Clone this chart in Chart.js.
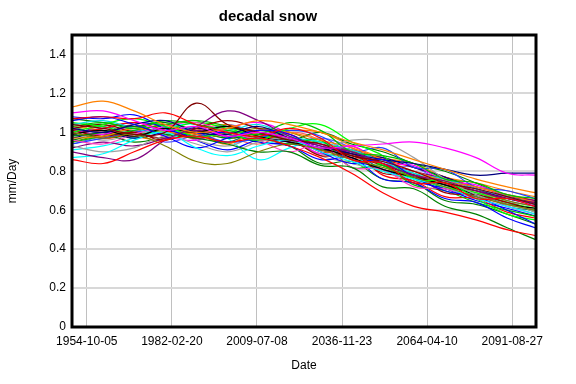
<!DOCTYPE html>
<html lang="en">
<head>
  <meta charset="UTF-8">
  <title>decadal snow</title>
  <script src="https://cdn.jsdelivr.net/npm/chart.js"></script>
  <style>
    body {
      margin: 0;
      background: #fff;
    }
  </style>
</head>
<body>
  <canvas id="snowChart" width="576" height="384"></canvas>

  <script>
    // sample dates (1 Jan of each year) and tick values (day serials from 1900-01-01)
    const years = [1950, 1960, 1970, 1980, 1990, 2000, 2010, 2020, 2030, 2040, 2050, 2060, 2070, 2080, 2090, 2099];
    const tickDays = [20000, 30000, 40000, 50000, 60000, 70000];

    const colors = [
      '#ff8000', '#ff00ff', '#ff0000', '#ff0000', '#800000', '#808000',
      '#800080', '#00ffff', '#0000ff', '#000080', '#00c000', '#008000',
      '#00ff00', '#a0a0a0', '#000000', '#ff40c0', '#0000ff', '#ff8000',
      '#a00000', '#00c000', '#00e0e0', '#800080', '#ff0000', '#2040ff',
      '#00ff00', '#ff00ff', '#000080', '#800000', '#808000', '#008000',
      '#a0a0a0', '#ff8000', '#00ffff', '#0000ff', '#008000', '#ff0000',
      '#008080', '#ff6060', '#6060ff', '#40c040'
    ];

    const s1  = [1.13, 1.16, 1.11, 1.04, 1.00, 1.02, 1.06, 1.04, 1.00, 0.95, 0.91, 0.86, 0.81, 0.76, 0.72, 0.69];
    const s2  = [1.10, 1.11, 1.06, 1.01, 1.03, 0.98, 1.00, 0.97, 0.92, 0.93, 0.94, 0.95, 0.92, 0.87, 0.79, 0.78];
    const s3  = [1.07, 1.08, 1.07, 1.10, 1.04, 1.00, 0.98, 1.02, 0.97, 0.86, 0.84, 0.74, 0.74, 0.66, 0.66, 0.62];
    const s4  = [0.86, 0.84, 0.90, 0.96, 0.98, 0.95, 0.97, 0.93, 0.87, 0.79, 0.69, 0.62, 0.59, 0.55, 0.50, 0.47];
    const s5  = [1.04, 1.02, 0.99, 1.00, 1.15, 1.04, 1.00, 0.96, 0.94, 0.88, 0.85, 0.80, 0.74, 0.71, 0.67, 0.63];
    const s6  = [1.00, 0.97, 0.99, 0.93, 0.85, 0.84, 0.90, 0.94, 0.91, 0.86, 0.82, 0.77, 0.72, 0.67, 0.63, 0.60];
    const s7  = [0.90, 0.87, 0.86, 0.96, 1.03, 1.11, 1.06, 0.98, 0.93, 0.90, 0.84, 0.78, 0.75, 0.70, 0.66, 0.64];
    const s8  = [0.87, 0.89, 0.96, 1.00, 0.92, 0.88, 0.93, 0.96, 0.90, 0.85, 0.80, 0.76, 0.72, 0.66, 0.62, 0.58];
    const s9  = [1.06, 1.08, 1.04, 0.98, 0.92, 0.97, 1.01, 0.99, 0.90, 0.84, 0.86, 0.77, 0.70, 0.67, 0.60, 0.53];
    const s10 = [1.02, 1.00, 1.04, 1.06, 1.00, 0.99, 1.03, 0.97, 0.93, 0.89, 0.86, 0.84, 0.81, 0.78, 0.79, 0.79];
    const s11 = [1.03, 1.05, 1.02, 1.06, 1.04, 1.01, 0.99, 1.05, 1.01, 0.90, 0.88, 0.84, 0.76, 0.74, 0.68, 0.66];
    const s12 = [0.98, 1.00, 1.03, 0.99, 0.97, 0.94, 0.90, 0.90, 0.83, 0.82, 0.72, 0.71, 0.62, 0.58, 0.51, 0.45];
    const s13 = [1.00, 1.04, 1.07, 1.03, 0.98, 0.99, 0.96, 1.02, 1.04, 0.95, 0.88, 0.76, 0.75, 0.66, 0.58, 0.55];
    const s14 = [0.93, 0.90, 0.92, 0.98, 0.94, 0.90, 0.95, 0.97, 0.92, 0.96, 0.95, 0.87, 0.76, 0.68, 0.63, 0.60];
    const s15 = [0.99, 1.01, 0.98, 1.02, 1.00, 1.03, 0.98, 0.95, 0.92, 0.87, 0.81, 0.77, 0.73, 0.68, 0.63, 0.61];
    const s16 = [0.96, 0.94, 0.99, 1.03, 1.05, 1.00, 0.96, 0.90, 0.94, 0.82, 0.81, 0.72, 0.71, 0.66, 0.62, 0.58];
    const s17 = [1.08, 1.07, 1.09, 1.02, 0.98, 1.00, 0.95, 0.93, 0.86, 0.87, 0.76, 0.74, 0.66, 0.64, 0.56, 0.51];
    const s18 = [0.97, 0.98, 1.02, 1.00, 0.99, 0.94, 1.01, 1.00, 0.96, 0.92, 0.86, 0.80, 0.75, 0.72, 0.68, 0.64];
    const s19 = [1.01, 0.98, 1.00, 0.96, 1.02, 1.06, 1.02, 0.97, 0.88, 0.89, 0.79, 0.78, 0.69, 0.68, 0.64, 0.60];
    const s20 = [0.95, 0.98, 1.01, 1.04, 1.06, 1.03, 0.98, 0.94, 0.96, 0.82, 0.83, 0.73, 0.70, 0.64, 0.60, 0.57];
    const s21 = [1.04, 1.06, 1.02, 0.99, 1.03, 1.01, 1.04, 0.98, 0.95, 0.91, 0.85, 0.79, 0.76, 0.71, 0.67, 0.63];
    const s22 = [0.92, 0.95, 0.93, 0.97, 1.01, 0.98, 1.00, 0.96, 0.94, 0.89, 0.84, 0.80, 0.76, 0.71, 0.67, 0.65];
    const s23 = [0.99, 1.02, 1.05, 1.01, 0.97, 1.00, 0.96, 0.99, 0.90, 0.91, 0.78, 0.75, 0.67, 0.66, 0.59, 0.56];
    const s24 = [0.94, 0.97, 1.00, 1.02, 1.00, 0.95, 0.97, 1.01, 0.98, 0.90, 0.92, 0.82, 0.81, 0.72, 0.70, 0.66];
    const s25 = [1.05, 1.03, 0.99, 1.01, 1.05, 1.02, 0.98, 0.97, 0.95, 0.90, 0.83, 0.76, 0.72, 0.69, 0.64, 0.61];
    const s26 = [1.01, 0.99, 1.03, 0.98, 0.96, 1.02, 1.05, 0.99, 0.89, 0.93, 0.84, 0.83, 0.75, 0.73, 0.67, 0.62];
    const s27 = [0.97, 1.00, 0.97, 1.00, 1.02, 0.99, 0.95, 0.94, 0.92, 0.89, 0.87, 0.82, 0.77, 0.71, 0.66, 0.63];
    const s28 = [1.02, 1.04, 1.00, 0.97, 1.00, 1.03, 1.00, 0.95, 0.91, 0.88, 0.83, 0.78, 0.73, 0.70, 0.66, 0.64];
    const s29 = [0.95, 0.99, 1.02, 1.00, 0.97, 0.99, 1.02, 1.00, 0.94, 0.89, 0.84, 0.78, 0.74, 0.70, 0.65, 0.62];
    const s30 = [1.07, 1.05, 1.03, 1.05, 1.01, 0.97, 0.99, 0.96, 1.00, 0.94, 0.90, 0.84, 0.80, 0.74, 0.67, 0.64];
    const s31 = [1.00, 0.96, 0.99, 1.01, 0.96, 0.93, 0.98, 0.96, 0.88, 0.84, 0.80, 0.75, 0.74, 0.69, 0.65, 0.59];
    const s32 = [1.03, 1.01, 0.98, 0.96, 1.01, 1.04, 0.99, 1.01, 1.00, 0.93, 0.87, 0.84, 0.77, 0.74, 0.70, 0.67];
    const s33 = [0.91, 0.93, 0.97, 1.02, 1.04, 0.97, 0.86, 0.92, 0.96, 0.86, 0.85, 0.76, 0.73, 0.68, 0.64, 0.60];
    const s34 = [1.00, 1.02, 1.05, 1.03, 0.96, 0.91, 0.96, 0.95, 0.92, 0.86, 0.81, 0.75, 0.71, 0.65, 0.61, 0.57];
    const s35 = [0.96, 0.99, 0.95, 0.98, 1.03, 1.00, 0.97, 0.93, 0.84, 0.85, 0.76, 0.74, 0.65, 0.63, 0.58, 0.53];
    const s36 = [1.02, 0.97, 1.00, 1.04, 0.99, 1.02, 1.00, 0.97, 0.94, 0.91, 0.86, 0.82, 0.77, 0.72, 0.68, 0.65];
    const s37 = [0.98, 1.03, 0.97, 1.04, 0.99, 0.95, 1.01, 0.98, 0.91, 0.90, 0.81, 0.79, 0.71, 0.70, 0.62, 0.60];
    const s38 = [1.05, 1.00, 1.04, 0.99, 1.02, 0.98, 0.94, 1.00, 0.96, 0.87, 0.87, 0.78, 0.77, 0.69, 0.67, 0.63];
    const s39 = [0.94, 0.98, 1.01, 0.95, 0.99, 1.04, 0.99, 0.95, 0.97, 0.92, 0.83, 0.82, 0.74, 0.71, 0.65, 0.62];
    const s40 = [1.01, 1.04, 0.98, 1.02, 1.06, 0.97, 1.01, 0.96, 0.89, 0.88, 0.80, 0.77, 0.73, 0.68, 0.64, 0.59];

    const series = [s1, s2, s3, s4, s5, s6, s7, s8, s9, s10, s11, s12, s13, s14, s15, s16, s17, s18, s19, s20,
                    s21, s22, s23, s24, s25, s26, s27, s28, s29, s30, s31, s32, s33, s34, s35, s36, s37, s38, s39, s40];

    // day serial counted from 1900-01-01
    const epoch = Date.UTC(1900, 0, 1);
    const toSerial = y => (Date.UTC(y, 0, 1) - epoch) / 86400000;
    const xs = years.map(toSerial);

    const fmtDate = d => new Date(epoch + d * 86400000).toISOString().slice(0, 10);

    const datasets = series.map((vals, i) => ({
      label: 'run ' + (i + 1),
      data: vals.map((v, j) => ({ x: xs[j], y: v })),
      borderColor: colors[i],
      borderWidth: 1.2,
      pointRadius: 0,
      tension: 0.4,
      fill: false
    }));

    // thick black frame round the plot
    const framePlugin = {
      id: 'frame',
      afterDraw(chart) {
        const a = chart.chartArea;
        const c = chart.ctx;
        c.save();
        c.strokeStyle = '#000';
        c.lineWidth = 3;
        c.strokeRect(a.left, a.top, a.right - a.left, a.bottom - a.top);
        c.restore();
      }
    };

    Chart.defaults.font.family = "'Liberation Sans', Arial, sans-serif";
    Chart.defaults.color = '#000';

    new Chart(document.getElementById('snowChart'), {
      type: 'line',
      data: { datasets: datasets },
      options: {
        responsive: false,
        animation: false,
        layout: { padding: { left: 0, right: 40, top: 0, bottom: 0 } },
        plugins: {
          legend: { display: false },
          tooltip: { enabled: false },
          title: {
            display: true,
            text: 'decadal snow',
            font: { size: 15, weight: 'bold' },
            padding: { top: 8, bottom: 9 }
          }
        },
        scales: {
          x: {
            type: 'linear',
            min: toSerial(1950),
            max: 72800,
            afterFit: s => { s.height = 57; },
            afterBuildTicks: s => { s.ticks = tickDays.map(v => ({ value: v })); },
            ticks: {
              font: { size: 12 },
              padding: 7,
              maxRotation: 0,
              autoSkip: false,
              callback: v => fmtDate(v)
            },
            grid: { color: '#c0c0c0', lineWidth: 1, drawTicks: false },
            border: { display: false },
            title: {
              display: true,
              text: 'Date',
              font: { size: 12 },
              padding: { top: 0, bottom: 11 }
            }
          },
          y: {
            min: 0,
            max: 1.5,
            afterFit: s => { s.width = 72; },
            ticks: {
              stepSize: 0.2,
              includeBounds: false,
              font: { size: 12 },
              padding: 6,
              callback: v => String(+v.toFixed(1))
            },
            grid: { color: '#d8d8d8', lineWidth: 2, drawTicks: false },
            border: { display: false },
            title: {
              display: true,
              text: 'mm/Day',
              font: { size: 12 },
              padding: { top: 5, bottom: 0 }
            }
          }
        }
      },
      plugins: [framePlugin]
    });
  </script>
</body>
</html>
